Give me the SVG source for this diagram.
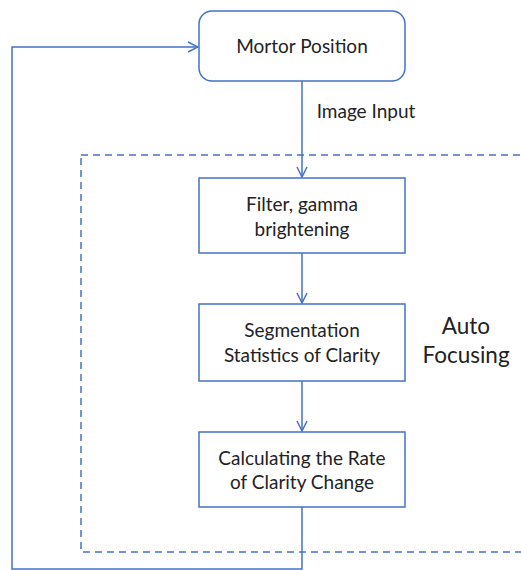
<svg xmlns="http://www.w3.org/2000/svg" width="521" height="570" viewBox="0 0 521 570">
<style>
.box{fill:#fff;stroke:#4472C4;stroke-width:1.5}
.ln{fill:none;stroke:#4472C4;stroke-width:1.5}
.t{font-family:Lato,"Liberation Sans",sans-serif;font-size:19px;fill:#222;text-anchor:middle}
.big{font-size:22.5px}
</style>
<defs>
<marker id="ah" viewBox="0 0 12 12" refX="11" refY="6" markerWidth="12" markerHeight="12" markerUnits="userSpaceOnUse" orient="auto">
<path d="M1,1 L11,6 L1,11" fill="none" stroke="#4472C4" stroke-width="1.5"/>
</marker>
</defs>
<rect width="521" height="570" fill="#fff"/>
<g id="autofocus-region">
<rect x="81" y="155" width="460" height="397" fill="none" stroke="#4472C4" stroke-width="1.5" stroke-dasharray="7,5"/>
<text class="t big" x="466" y="334">Auto</text>
<text class="t big" x="466" y="363">Focusing</text>
</g>
<g id="connectors">
<line class="ln" x1="302" y1="81" x2="302" y2="177" marker-end="url(#ah)"/>
<text class="t" x="366" y="118">Image Input</text>
<line class="ln" x1="302" y1="253" x2="302" y2="303" marker-end="url(#ah)"/>
<line class="ln" x1="302" y1="381" x2="302" y2="431" marker-end="url(#ah)"/>
<polyline class="ln" points="302,507 302,569 12,569 12,47 198,47" marker-end="url(#ah)"/>
</g>
<g id="motor">
<rect class="box" x="199" y="11" width="206" height="70" rx="13"/>
<text class="t" x="302" y="53">Mortor Position</text>
</g>
<g id="filter">
<rect class="box" x="199" y="178" width="206" height="75"/>
<text class="t" x="302" y="211">Filter, gamma</text>
<text class="t" x="302" y="236">brightening</text>
</g>
<g id="segmentation">
<rect class="box" x="199" y="304" width="206" height="77"/>
<text class="t" x="302" y="337">Segmentation</text>
<text class="t" x="302" y="362">Statistics of Clarity</text>
</g>
<g id="calc">
<rect class="box" x="199" y="432" width="206" height="75"/>
<text class="t" x="302" y="465">Calculating the Rate</text>
<text class="t" x="302" y="489">of Clarity Change</text>
</g>
</svg>
